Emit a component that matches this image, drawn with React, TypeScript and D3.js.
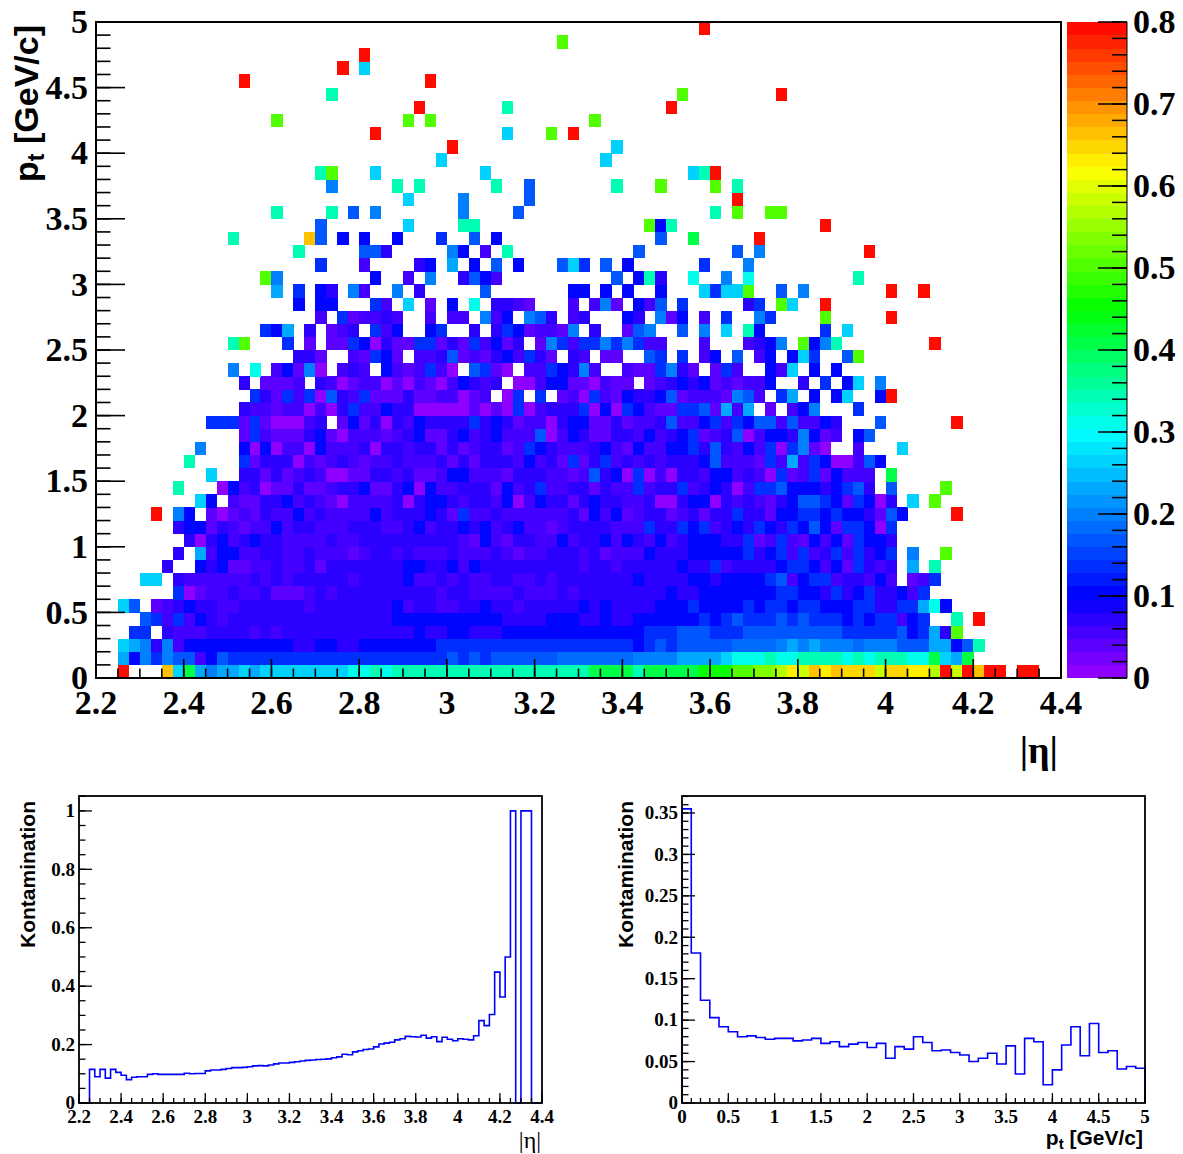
import React from "react";
import * as d3 from "d3";

// ---- data: 2D contamination map, one string per pt bin (0.1 GeV/c), lowest pt first.
// Each token is "<first eta bin><one letter per cell>"; letters name the contamination levels below.
const heatRows: string[] = [
  "2s 6r 7jmihiijijjjjjjjjkklk 27llllllllllllllllll 45mmmmlmmmmm 55tttnnuuopvrprwqqvwwpposvsrss 84ss",
  "2iehfhggcegffff 16ffffffffffffffff 32gfgfg 37ggggg 42yyyyyyy 49hhhh 53iiii 57jkkklkkllllklklllkkmjim",
  "2jihdhc 8eeeeeeeeee 18dd 20ee 22dd 24eeeeeee 31ffffff 37ffffffffff 47ffe 50fgf 53ggg 56ggyyyyhihihhhyhhhgggiiegl",
  "3ff 6dcc 9c 10dddd 14cdcddd 20ddddddddd 29eddeeddd 37eeeeeeeeeeeee 50fff 53ggg 56fff 59ggggggggg 68ffff 72fgefidn",
  "4gfcfcedcddd 15ddddddddddd 26d 27eeeeeeeeee 37dddd 41eee 44dd 46e 47dd 49eeeeee 55fefgfffgfgfffefeffcef 78l 80s",
  "2jg 5bcdeddccdddddd 19cdddddddecddccdded 37dcddddd 44ededddd 51eeefeeee 59feffeffeeeffd 72dffike",
  "7fabccdccdbbbcdcd 23ddddd 28dddcddcccc 38dcccdc 44dddddddd 52edd 55eeeeeee 62ffeedfdefddecf",
  "4jj 7dcccccc 14dcdc 18ddddd 23c 24dddd 28eccdcdccd 37dccdc 42ddddddd 49e 50dddd 54eedeeeefgc 64effcddce 72c 74bcf",
  "6d 9edebbccdc 18cdbddddddd 28eeddecedd 37ddddddd 44cddc 48ddddd 53eddfc 58dddd 62effecebfdc 72d 74i 76l",
  "7d 9iceeccddccdcccbcddcd 29cccdcccd 37cbccdddcdb 47ccced 52ddeeeeefdefcfcdfcfdef 74h 77n",
  "8dadecdeddccccdcc 24dddddd 30dddcbec 37bddccecddecedcecdeeeddfbcfcbecebfeed",
  "7deebdcbccecddcccdddc 27cdecddedec 37decc 41bc 43dddd 47ccc 50fddfefcdedfedfegebffeaf",
  "5s 7he 10babcbdccecdcccc 25ecdddedbfccd 37cccccc 43dbecebcddbcdbddfddbeeffefeedbge 78s",
  "9je 12cbbddecdcbaccccdadeedcddc 37eacedd 43bdedd 48ccdaad 54eeadcdcbd 63eggfebfea 72d 74j 76n",
  "7l 11aecdabbdbbcddebbdeaeccdddb 37ecdfccddbdcc 49fcddfcdedacffg 63eeedefgd 72g 77n",
  "10j 13ddbdbcdcaabbddcdbbceeccc 37bdddccbcgdeafacaddceecdcafbcfbeccc 72m",
  "8l 13fbdddacbcdcbccdcccdbdbdd 37dcecdbfbdfcdcdcdddegcccbfcicfeaacge",
  "9h 13eaeaccaecccdaddcddbdbcddbcfedcccdecbecceefdgdcecfafhba 69c 73j",
  "13bfcbbbdeba 23cccbcdebbd 33ecdecccgac 43edbbddcecd 53efbcdgacee 63dhebc 69eg",
  "10fffbfbaaacd 22bebdadceddd 33dfdedbccadee 45bbdbccd 52gccefcfe 60ggcgcced 71g 78s",
  "13dccbccacadf 24ccedd 29aaaaababafacdddfaeafecbbffgbici 61b 63ceh 69f",
  "14fdbfcfagdcfbbbdbbccabc 37af 40f 42bcafcbeddegbcccbhgc 62fi 65e 67ej 71es",
  "13d 15bbbc 20dcabccabacbacedcd 38aac 41eebbacbb 50bcdedebcbcce 64d 66f 68ej 71h",
  "12h 14k 16cebha 22cdc 26ecbcfca 34gfba 39ccfedhc 48cbbfhdb 56bfc 61ecj 65e 67e",
  "18ddb 23cbfeb 29ccdgbcbdecfdb 43dc 46bb 50gf 53f 55ce 58g 60ce 63ejf 68gn",
  "12ln 17f 19b 21bbfeadbbffbdbfcebd 40bhfcffhfhfcc 55c 59cde 62h 64nehl 76s",
  "15fei 19d 21bcd 25fce 30ef 34d 36dfebccbh 45d 48bgh 53g 55h 57j 59le 66f 68j",
  "20c 22fbccdc 30c 32cc 35hce 39hgd 43cd 48ed 51hbe 55c 57f 60hf 66n 72s",
  "18e 20ee 25fc 28j 30b 32e 34k 36ddcb 43c 45c 46hb 49ecg 53f 59df 62nj 66s",
  "16i 18f 20ed 23hc 27h 29d 35g 43ee 46e 48e 51e 55jfjjn 62g 64h 72s 75s",
  "15nh 25e 28c 30h 33dgec 47g 49eld 54k 57h 59k 69l",
  "20f 24c 29de 32i 34e 36g 38e 42gjf 46g 48e 55f 59h",
  "18l 24ggd 32he 35c 37l 49g 58g 60h 70s",
  "12l 19rg 22e 24e 27e 31f 34g 36e 51g 54m 60s",
  "20g 28j 33ll 50nel 66s",
  "16l 21l 23g 25h 33h 38g 56l 58n 61nn",
  "28j 33h 39g 58s",
  "21h 27l 29l 36l 39g 47l 51n 56n 58l",
  "20ln 25j 35j 54jls",
  "31j 46j",
  "32s 47j",
  "25s 37j 41n 43s",
  "16n 28n 30n 45n",
  "29s 37l 52s",
  "21l 53n 62s",
  "13s 30s",
  "22s 24j",
  "24s",
  "42n",
  "55s",
];

const levelValues: Record<string, number> = {
  a: 0.012, b: 0.04, c: 0.056, d: 0.072, e: 0.105, f: 0.138, g: 0.175, y: 0.19, h: 0.207,
  i: 0.232, j: 0.26, k: 0.305, l: 0.34, m: 0.4035, t: 0.45, n: 0.507, u: 0.535, o: 0.567,
  v: 0.59, p: 0.625, w: 0.642, q: 0.653, r: 0.664, s: 0.795,
};

const paletteStops = [0, 0.1, 0.3, 0.45, 0.62, 0.8];
const paletteColors = ["#9a00ff", "#0000ff", "#00ffff", "#00ff00", "#ffff00", "#ff0000"];

const mainEtaLabels = ["2.2", "2.4", "2.6", "2.8", "3", "3.2", "3.4", "3.6", "3.8", "4", "4.2", "4.4"];
const mainPtLabels = ["0", "0.5", "1", "1.5", "2", "2.5", "3", "3.5", "4", "4.5", "5"];
const colorBarLabels = ["0", "0.1", "0.2", "0.3", "0.4", "0.5", "0.6", "0.7", "0.8"];

// ---- projections
const etaProjection = [
  0, 0, 0.115, 0.09, 0.115, 0.085, 0.115, 0.105, 0.095, 0.08, 0.088, 0.09, 0.09, 0.098, 0.1, 0.098, 0.098, 0.098,
  0.098, 0.098, 0.102, 0.1, 0.101, 0.101, 0.11, 0.113, 0.113, 0.115, 0.118, 0.121, 0.121, 0.122, 0.124, 0.127, 0.128,
  0.127, 0.13, 0.134, 0.137, 0.137, 0.139, 0.141, 0.144, 0.146, 0.147, 0.149, 0.15, 0.151, 0.155, 0.158, 0.167, 0.165,
  0.175, 0.179, 0.183, 0.185, 0.192, 0.202, 0.205, 0.208, 0.216, 0.22, 0.228, 0.227, 0.226, 0.232, 0.222, 0.227, 0.21,
  0.225, 0.218, 0.213, 0.22, 0.218, 0.216, 0.23, 0.282, 0.265, 0.303, 0.448, 0.363, 0.5, 1, 0, 1, 1, 0, 0,
];
const ptProjection = [
  0.355, 0.181, 0.124, 0.103, 0.092, 0.086, 0.08, 0.081, 0.079, 0.077, 0.078, 0.078, 0.075, 0.076, 0.078, 0.072, 0.074,
  0.068, 0.071, 0.073, 0.067, 0.072, 0.054, 0.068, 0.065, 0.08, 0.073, 0.063, 0.064, 0.061, 0.058, 0.05, 0.054, 0.06,
  0.047, 0.069, 0.035, 0.078, 0.074, 0.022, 0.04, 0.07, 0.092, 0.057, 0.096, 0.061, 0.063, 0.041, 0.044, 0.042,
];
const lowerEtaLabels = mainEtaLabels;
const lowerEtaYLabels = ["0", "0.2", "0.4", "0.6", "0.8", "1"];
const lowerPtXLabels = ["0", "0.5", "1", "1.5", "2", "2.5", "3", "3.5", "4", "4.5", "5"];
const lowerPtYLabels = ["0", "0.05", "0.1", "0.15", "0.2", "0.25", "0.3", "0.35"];

// ---- helpers
const SERIF = "'Liberation Serif', serif";
const SANS = "'Liberation Sans', sans-serif";
const BAND = 0.8 / 50;
const stopScale = d3.scaleLinear<string>().domain(paletteStops).range(paletteColors).interpolate(d3.interpolateRgb);
const bandColors = d3.range(50).map((b) => d3.rgb(stopScale((b + 0.5) * BAND)).formatHex());
const colorOf = (v: number) => bandColors[Math.min(49, Math.floor(v / BAND))];

type Cell = { i: number; j: number; v: number };
const cells: Cell[] = [];
heatRows.forEach((row, j) => {
  for (const m of row.matchAll(/(\d+)([a-z]+)/g)) {
    [...m[2]].forEach((ch, k) => cells.push({ i: +m[1] + k, j, v: levelValues[ch] }));
  }
});

const tickValues = (lo: number, hi: number, step: number) =>
  d3.range(Math.round((hi - lo) / step + 1)).map((k) => lo + k * step);

function Ticks({ x, y, xMajor, xMinor, yMajor, yMinor, xLen, yLen, sw }: any) {
  const [x0] = x.range();
  const [y0] = y.range();
  return (
    <g stroke="#000" strokeWidth={sw}>
      {xMinor.map((t: number) => (
        <line key={"a" + t} x1={x(t)} x2={x(t)} y1={y0} y2={y0 - xLen / 2} />
      ))}
      {xMajor.map((t: number) => (
        <line key={"b" + t} x1={x(t)} x2={x(t)} y1={y0} y2={y0 - xLen} />
      ))}
      {yMinor.map((t: number) => (
        <line key={"c" + t} x1={x0} x2={x0 + yLen / 2} y1={y(t)} y2={y(t)} />
      ))}
      {yMajor.map((t: number) => (
        <line key={"d" + t} x1={x0} x2={x0 + yLen} y1={y(t)} y2={y(t)} />
      ))}
    </g>
  );
}

function Frame({ x, y, sw }: any) {
  const [x0, x1] = x.range();
  const [y0, y1] = y.range();
  return <rect x={x0} y={y1} width={x1 - x0} height={y0 - y1} fill="none" stroke="#000" strokeWidth={sw} />;
}

function Hist({ x, y, values, lo, width }: any) {
  const pts: [number, number][] = [[lo, 0]];
  values.forEach((v: number, k: number) => {
    pts.push([lo + k * width, v], [lo + (k + 1) * width, v]);
  });
  pts.push([lo + values.length * width, 0]);
  const path = d3.line<[number, number]>().x((d) => x(d[0])).y((d) => y(d[1]))(pts) as string;
  return <path d={path} fill="none" stroke="#0000ff" strokeWidth={1.6} strokeLinejoin="miter" />;
}

export default function App() {
  // main map
  const x = d3.scaleLinear().domain([2.2, 4.4]).range([96, 1061]);
  const y = d3.scaleLinear().domain([0, 5]).range([678, 22]);
  const cb = d3.scaleLinear().domain([0, 0.8]).range([678, 22]);
  // lower left
  const lx = d3.scaleLinear().domain([2.2, 4.4]).range([79, 542]);
  const ly = d3.scaleLinear().domain([0, 1.051]).range([1103, 796]);
  // lower right
  const rx = d3.scaleLinear().domain([0, 5]).range([682, 1145]);
  const ry = d3.scaleLinear().domain([0, 0.3705]).range([1103, 796]);

  const cw = x(2.225) - x(2.2);
  const ch = y(0) - y(0.1);

  return (
    <svg
      width={1183}
      height={1154}
      viewBox="0 0 1183 1154"
      style={{ position: "absolute", left: 0, top: 0, display: "block", background: "#fff" }}
    >
      {/* heat map */}
      <g shapeRendering="crispEdges">
        {cells.map((c) => (
          <rect
            key={c.i + "-" + c.j}
            x={x(2.2 + c.i * 0.025)}
            y={y((c.j + 1) * 0.1)}
            width={cw + 0.3}
            height={ch + 0.3}
            fill={colorOf(c.v)}
          />
        ))}
      </g>
      <Ticks
        x={x}
        y={y}
        xMajor={mainEtaLabels.map(Number)}
        xMinor={tickValues(2.2, 4.4, 0.05)}
        yMajor={mainPtLabels.map(Number)}
        yMinor={tickValues(0, 5, 0.1)}
        xLen={19}
        yLen={29}
        sw={1.6}
      />
      <Frame x={x} y={y} sw={2} />
      <g fontFamily={SERIF} fontWeight="bold" fontSize={34} fill="#000">
        {mainEtaLabels.map((l) => (
          <text key={l} x={x(+l)} y={714} textAnchor="middle">
            {l}
          </text>
        ))}
        {mainPtLabels.map((l) => (
          <text key={l} x={88} y={y(+l)} dy="0.33em" textAnchor="end">
            {l}
          </text>
        ))}
      </g>
      <text x={1058} y={763} textAnchor="end" fontFamily={SERIF} fontWeight="bold" fontSize={38}>
        |η|
      </text>
      <text
        transform="translate(38,25) rotate(-90)"
        textAnchor="end"
        fontFamily={SANS}
        fontWeight="bold"
        fontSize={34}
      >
        p<tspan fontSize={23} dy={6}>t</tspan>
        <tspan dy={-6}> [GeV/c]</tspan>
      </text>

      {/* colour bar */}
      <g shapeRendering="crispEdges">
        {bandColors.map((c, b) => (
          <rect
            key={c + b}
            x={1067}
            y={cb((b + 1) * BAND)}
            width={60}
            height={cb(0) - cb(BAND) + 0.3}
            fill={c}
          />
        ))}
      </g>
      <g stroke="#000" strokeWidth={1.5}>
        <line x1={1127} x2={1127} y1={22} y2={678} strokeWidth={1} />
        {tickValues(0, 0.8, 0.02).map((t) => (
          <line key={t} x1={1127} x2={1112} y1={cb(t)} y2={cb(t)} />
        ))}
        {colorBarLabels.map((l) => (
          <line key={l} x1={1127} x2={1098} y1={cb(+l)} y2={cb(+l)} />
        ))}
      </g>
      <g fontFamily={SERIF} fontWeight="bold" fontSize={34}>
        {colorBarLabels.map((l) => (
          <text key={l} x={1133} y={cb(+l)} dy="0.33em">
            {l}
          </text>
        ))}
      </g>

      {/* lower left */}
      <Hist x={lx} y={ly} values={etaProjection} lo={2.2} width={0.025} />
      <Ticks
        x={lx}
        y={ly}
        xMajor={lowerEtaLabels.map(Number)}
        xMinor={tickValues(2.2, 4.4, 0.05)}
        yMajor={lowerEtaYLabels.map(Number)}
        yMinor={tickValues(0, 1.05, 0.05)}
        xLen={10}
        yLen={13}
        sw={1.3}
      />
      <Frame x={lx} y={ly} sw={1.8} />
      <g fontFamily={SERIF} fontWeight="bold" fontSize={19}>
        {lowerEtaLabels.map((l) => (
          <text key={l} x={lx(+l)} y={1123} textAnchor="middle">
            {l}
          </text>
        ))}
        {lowerEtaYLabels.map((l) => (
          <text key={l} x={75} y={ly(+l)} dy="0.33em" textAnchor="end">
            {l}
          </text>
        ))}
      </g>
      <text x={541} y={1148} textAnchor="end" fontFamily={SERIF} fontSize={24}>
        |η|
      </text>
      <text transform="translate(35,801) rotate(-90)" textAnchor="end" fontFamily={SANS} fontWeight="bold" fontSize={21}>
        Kontamination
      </text>

      {/* lower right */}
      <Hist x={rx} y={ry} values={ptProjection} lo={0} width={0.1} />
      <Ticks
        x={rx}
        y={ry}
        xMajor={lowerPtXLabels.map(Number)}
        xMinor={tickValues(0, 5, 0.1)}
        xLen={10}
        yMajor={lowerPtYLabels.map(Number)}
        yMinor={tickValues(0, 0.37, 0.01)}
        yLen={13}
        sw={1.3}
      />
      <Frame x={rx} y={ry} sw={1.8} />
      <g fontFamily={SERIF} fontWeight="bold" fontSize={19}>
        {lowerPtXLabels.map((l) => (
          <text key={l} x={rx(+l)} y={1123} textAnchor="middle">
            {l}
          </text>
        ))}
        {lowerPtYLabels.map((l) => (
          <text key={l} x={678} y={ry(+l)} dy="0.33em" textAnchor="end">
            {l}
          </text>
        ))}
      </g>
      <text x={1143} y={1145} textAnchor="end" fontFamily={SANS} fontWeight="bold" fontSize={21}>
        p<tspan fontSize={15} dy={4}>t</tspan>
        <tspan dy={-4}> [GeV/c]</tspan>
      </text>
      <text transform="translate(633,801) rotate(-90)" textAnchor="end" fontFamily={SANS} fontWeight="bold" fontSize={21}>
        Kontamination
      </text>
    </svg>
  );
}
